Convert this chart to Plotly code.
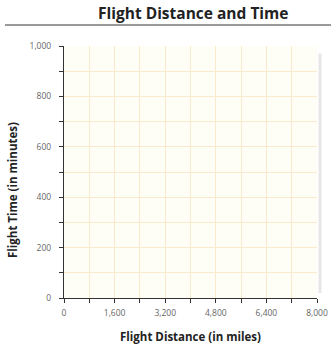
import plotly.graph_objects as go

# Data (the worksheet grid is empty; only axes/ticks are given)
x_tick_values = [0, 800, 1600, 2400, 3200, 4000, 4800, 5600, 6400, 7200, 8000]
x_tick_labels = ["0", "", "1,600", "", "3,200", "", "4,800", "", "6,400", "", "8,000"]
y_tick_values = [0, 100, 200, 300, 400, 500, 600, 700, 800, 900, 1000]
y_tick_labels = ["0", "", "200", "", "400", "", "600", "", "800", "", "1,000"]
distance_miles = []
time_minutes = []

title_text = "Flight Distance and Time"
x_title = "Flight Distance (in miles)"
y_title = "Flight Time (in minutes)"

FONT = "Open Sans"
W, H = 331, 348
# plot area in page pixels: x 64..317, y 46..298
L, T = 64, 46
R = W - 317
B = H - 298
PW, PH = W - L - R, H - T - B


def px_x(page_x):
    return (page_x - L) / PW


def px_y(page_y):
    return (H - B - page_y) / PH


fig = go.Figure()
fig.add_trace(go.Scatter(x=distance_miles, y=time_minutes, mode="markers",
                         marker=dict(color="#333", size=5), showlegend=False))

fig.update_layout(
    width=W, height=H,
    margin=dict(l=L, r=R, t=T, b=B, autoexpand=False),
    paper_bgcolor="white",
    plot_bgcolor="#fffef6",
    showlegend=False,
    font=dict(family=FONT, color="#333"),
)

axis_common = dict(
    showgrid=True, gridcolor="#f9eacb", gridwidth=1,
    showline=True, linecolor="#333", linewidth=1.2,
    ticks="outside", ticklen=4, tickcolor="#333", tickwidth=1,
    tickfont=dict(family=FONT, size=8.5, color="#666"),
    zeroline=False, fixedrange=True, ticklabeloverflow="allow",
)
fig.update_xaxes(range=[0, 8000], tickvals=x_tick_values, ticktext=x_tick_labels,
                 ticklabelstandoff=3, **axis_common)
fig.update_yaxes(range=[0, 1000], tickvals=y_tick_values, ticktext=y_tick_labels,
                 ticklabelstandoff=6, **axis_common)

# Title and separator line
fig.add_annotation(text="<b>" + title_text + "</b>", xref="paper", yref="paper",
                   x=px_x(193), y=px_y(13), xanchor="center", yanchor="middle",
                   showarrow=False, font=dict(family=FONT, size=15.5, color="#222"))
fig.add_shape(type="line", xref="paper", yref="paper",
              x0=px_x(5), x1=px_x(331), y0=px_y(25), y1=px_y(25),
              line=dict(color="#9a9a9a", width=2))

# Axis titles
fig.add_annotation(text="<b>" + x_title + "</b>", xref="paper", yref="paper",
                   x=0.5, y=px_y(336), xanchor="center", yanchor="middle",
                   showarrow=False, font=dict(family=FONT, size=11.5, color="#222"))
fig.add_annotation(text="<b>" + y_title + "</b>", xref="paper", yref="paper",
                   x=px_x(12), y=px_y(190), xanchor="center", yanchor="middle",
                   textangle=-90, showarrow=False,
                   font=dict(family=FONT, size=11.5, color="#222"))

# faint shadow on right edge of the grid paper
fig.add_shape(type="line", xref="paper", yref="paper", x0=px_x(320), x1=px_x(320),
              y0=0.02, y1=0.97, line=dict(color="#e6e6e6", width=3))

fig.write_html(
    "out.html",
    config={"displayModeBar": False},
    post_script="document.body.style.margin='0';document.documentElement.style.overflow='hidden';",
)
